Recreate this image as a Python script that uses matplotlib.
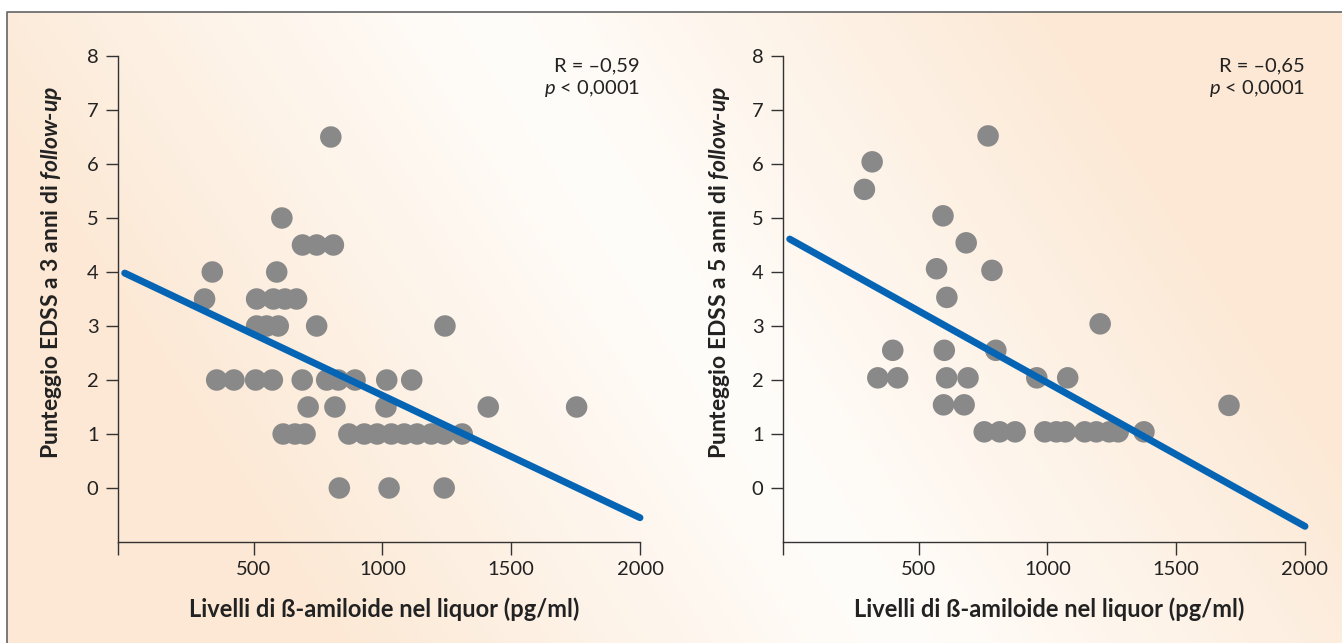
import numpy as np
import matplotlib
matplotlib.use("Agg")
import matplotlib.pyplot as plt

plt.rcParams['font.family'] = ['Lato', 'DejaVu Sans']
plt.rcParams['mathtext.fontset'] = 'custom'
plt.rcParams['mathtext.it'] = 'Lato:italic'
plt.rcParams['mathtext.bfit'] = 'Lato:italic:bold'
plt.rcParams['mathtext.rm'] = 'Lato'

# left panel: EDSS at 3 years
amy3 = [800, 610, 690, 745, 810, 340, 590,
        310, 512, 577, 622, 667,
        512, 551, 596, 745, 1243,
        357, 424, 508, 573, 689, 784, 829, 894, 1017, 1114,
        712, 816, 1014, 1411, 1754,
        615, 661, 700, 870, 930, 980, 1035, 1085, 1135, 1190, 1240, 1310,
        833, 1026, 1240]
edss3 = [6.5, 5, 4.5, 4.5, 4.5, 4, 4,
         3.5, 3.5, 3.5, 3.5, 3.5,
         3, 3, 3, 3, 3,
         2, 2, 2, 2, 2, 2, 2, 2, 2, 2,
         1.5, 1.5, 1.5, 1.5, 1.5,
         1, 1, 1, 1, 1, 1, 1, 1, 1, 1, 1, 1,
         0, 0, 0]
fit3_x = [0, 2000]
fit3_y = [3.98, -0.55]

# right panel: EDSS at 5 years
amy5 = [770, 320, 290, 595, 685, 570, 785, 610, 1205,
        400, 600, 800,
        342, 419, 609, 692, 959, 1079,
        597, 677, 1705,
        755, 815, 875, 990, 1035, 1070, 1145, 1190, 1240, 1275, 1375]
edss5 = [6.52, 6.04, 5.53, 5.04, 4.54, 4.06, 4.03, 3.53, 3.04,
         2.55, 2.55, 2.55,
         2.04, 2.04, 2.04, 2.04, 2.04, 2.04,
         1.54, 1.54, 1.53,
         1.04, 1.04, 1.04, 1.04, 1.04, 1.04, 1.04, 1.04, 1.04, 1.04, 1.04]
fit5_x = [0, 2000]
fit5_y = [4.61, -0.71]

xticks = [-26, 500, 1000, 1500, 2000]
xticklabels = ['', '500', '1000', '1500', '2000']
yticks = [0, 1, 2, 3, 4, 5, 6, 7, 8]

xlab = 'Livelli di ß-amiloide nel liquor (pg/ml)'
ylab3 = r'Punteggio EDSS a 3 anni di $\mathbfit{follow}$-$\mathbfit{up}$'
ylab5 = r'Punteggio EDSS a 5 anni di $\mathbfit{follow}$-$\mathbfit{up}$'
stats3 = ['R = –0,59', r'$\mathit{p}$ < 0,0001']
stats5 = ['R = –0,65', r'$\mathit{p}$ < 0,0001']

W, H = 1342, 643
fig = plt.figure(figsize=(W / 100, H / 100), dpi=100)

# background gradient
bg = fig.add_axes([0, 0, 1, 1], zorder=-10)
yy, xx = np.mgrid[0:H, 0:W]
d = (643 * (xx - 480) - 420 * yy) / 768.0
t = np.clip(np.abs(d) / 480.0, 0, 1) ** 1.1
peach = np.array([252, 232, 212]) / 255.0
white = np.array([255, 253, 250]) / 255.0
img = white[None, None, :] * (1 - t[..., None]) + peach[None, None, :] * t[..., None]
img[:12, :, :] = 1.0
img[:, :7, :] = 1.0
bg.imshow(img, extent=[0, W, H, 0], aspect='auto', interpolation='bilinear')
bg.plot([7, 7, W], [H, 12, 12], color='#6f6f6f', lw=1.3)
bg.set_xlim(0, W)
bg.set_ylim(H, 0)
bg.axis('off')

ink = '#222222'
panels = [
    (118, amy3, edss3, fit3_x, fit3_y, ylab3, stats3, -0.103),
    (783, amy5, edss5, fit5_x, fit5_y, ylab5, stats5, -0.097),
]
for left, xs, ys, fx, fy, ylab, stats, ylx in panels:
    ax = fig.add_axes([left / W, (H - 542) / H, 522 / W, 486 / H])
    ax.set_facecolor('none')
    ax.scatter(xs, ys, s=240, color='#898989', edgecolors='none', zorder=2)
    ax.plot(fx, fy, color='#0565b4', lw=5, solid_capstyle='round', zorder=3, clip_on=False)
    ax.set_xlim(-26, 2000)
    ax.set_ylim(-1, 8)
    ax.set_xticks(xticks, xticklabels)
    ax.set_yticks(yticks)
    for s in ['top', 'right']:
        ax.spines[s].set_visible(False)
    for s in ['left', 'bottom']:
        ax.spines[s].set_color('#333333')
        ax.spines[s].set_linewidth(1.0)
    ax.tick_params(length=9, width=1.0, color='#333333', labelsize=14.5,
                   labelcolor=ink, pad=5)
    ax.set_xlabel(xlab, fontsize=17, fontweight='bold', color=ink)
    ax.xaxis.set_label_coords(0.51, -0.113)
    ax.set_ylabel(ylab, fontsize=16.5, fontweight='bold', color=ink)
    ax.yaxis.set_label_coords(ylx, 0.556)
    ax.text(2000, 7.81, stats[0], ha='right', va='center', fontsize=14.5, color=ink)
    ax.text(2000, 7.39, stats[1], ha='right', va='center', fontsize=14.5, color=ink)

fig.savefig('out.png', dpi=100)
